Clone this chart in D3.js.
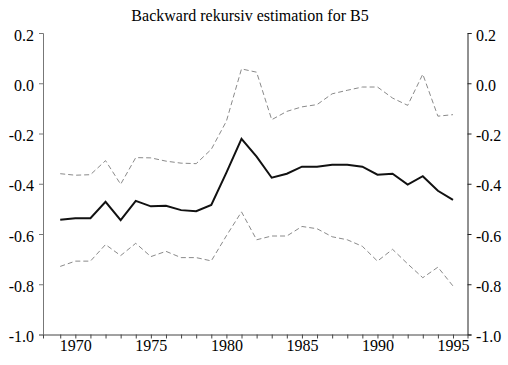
<!DOCTYPE html>
<html>
<head>
<meta charset="utf-8">
<script src="https://cdn.jsdelivr.net/npm/d3@7"></script>
<style>
  html, body { margin: 0; padding: 0; background: #fff; }
  svg { display: block; }
  text { font-family: "Liberation Serif", "Times New Roman", serif; fill: #000; }
</style>
</head>
<body>
<svg id="chart" width="508" height="365"></svg>
<script>
// Recursive estimates of the B5 coefficient, with upper and lower bands
const years = d3.range(1969, 1996);
const estimate = [
  -0.543, -0.537, -0.537, -0.472, -0.545, -0.468, -0.490, -0.488, -0.505,
  -0.509, -0.484, -0.356, -0.221, -0.292, -0.376, -0.360, -0.332, -0.332,
  -0.324, -0.324, -0.332, -0.364, -0.360, -0.403, -0.370, -0.428, -0.464
];
const upper = [
  -0.360, -0.366, -0.364, -0.308, -0.402, -0.296, -0.297, -0.310, -0.318,
  -0.320, -0.263, -0.151, 0.057, 0.044, -0.145, -0.112, -0.094, -0.085,
  -0.042, -0.028, -0.015, -0.015, -0.059, -0.088, 0.036, -0.131, -0.125
];
const lower = [
  -0.729, -0.708, -0.708, -0.642, -0.686, -0.637, -0.690, -0.669, -0.694,
  -0.694, -0.707, -0.607, -0.512, -0.623, -0.608, -0.608, -0.570, -0.579,
  -0.611, -0.623, -0.649, -0.708, -0.661, -0.719, -0.774, -0.732, -0.807
];
const yTicks = [0.2, 0.0, -0.2, -0.4, -0.6, -0.8, -1.0];
const xLabelYears = [1970, 1975, 1980, 1985, 1990, 1995];
const title = "Backward rekursiv estimation for B5";

const svg = d3.select("#chart");
const plotLeft = 43, plotRight = 467.5, plotTop = 33, plotBottom = 334.5;

const x = d3.scaleLinear().domain([1967.86, 1995.96]).range([plotLeft, plotRight]);
const y = d3.scaleLinear().domain([-1.0, 0.2]).range([plotBottom, plotTop]);

// Title
svg.append("text")
  .attr("x", 250).attr("y", 20.5)
  .attr("text-anchor", "middle")
  .style("font-size", "16px")
  .text(title);

// One decimal, plain hyphen for the minus sign
const fmt = d => d3.format(".1f")(d).replace("\u2212", "-");

function styleAxis(g, colour) {
  g.selectAll(".domain, .tick line").attr("stroke", colour);
  g.selectAll("text").style("font-size", "16px")
    .style("font-family", "'Liberation Serif', serif").attr("fill", "#000");
}

// Left axis
const gL = svg.append("g").attr("transform", `translate(${plotLeft},0)`)
  .call(d3.axisLeft(y).tickValues(yTicks).tickSize(4).tickPadding(5).tickFormat(fmt));
styleAxis(gL, "#777");
gL.selectAll("text").attr("dy", "0.44em");

// Right axis
const gR = svg.append("g").attr("transform", `translate(${plotRight},0)`)
  .call(d3.axisRight(y).tickValues(yTicks).tickSize(4).tickPadding(4.5).tickFormat(fmt));
styleAxis(gR, "#222");
gR.selectAll("text").attr("dy", "0.44em");

// Bottom axis: a tick for every year, labels every five
const gB = svg.append("g").attr("transform", `translate(0,${plotBottom})`)
  .call(d3.axisBottom(x).tickValues(years).tickSize(4).tickPadding(1)
    .tickFormat(d => xLabelYears.includes(d) ? String(d) : ""));
styleAxis(gB, "#444");

const line = d3.line().x((d, i) => x(years[i])).y(d => y(d));

svg.append("path").datum(upper)
  .attr("fill", "none").attr("stroke", "#8a8a8a").attr("stroke-width", 1)
  .attr("stroke-dasharray", "5,3").attr("d", line);
svg.append("path").datum(lower)
  .attr("fill", "none").attr("stroke", "#8a8a8a").attr("stroke-width", 1)
  .attr("stroke-dasharray", "5,3").attr("d", line);
svg.append("path").datum(estimate)
  .attr("fill", "none").attr("stroke", "#111").attr("stroke-width", 2)
  .attr("stroke-linejoin", "miter").attr("d", line);
</script>
</body>
</html>
